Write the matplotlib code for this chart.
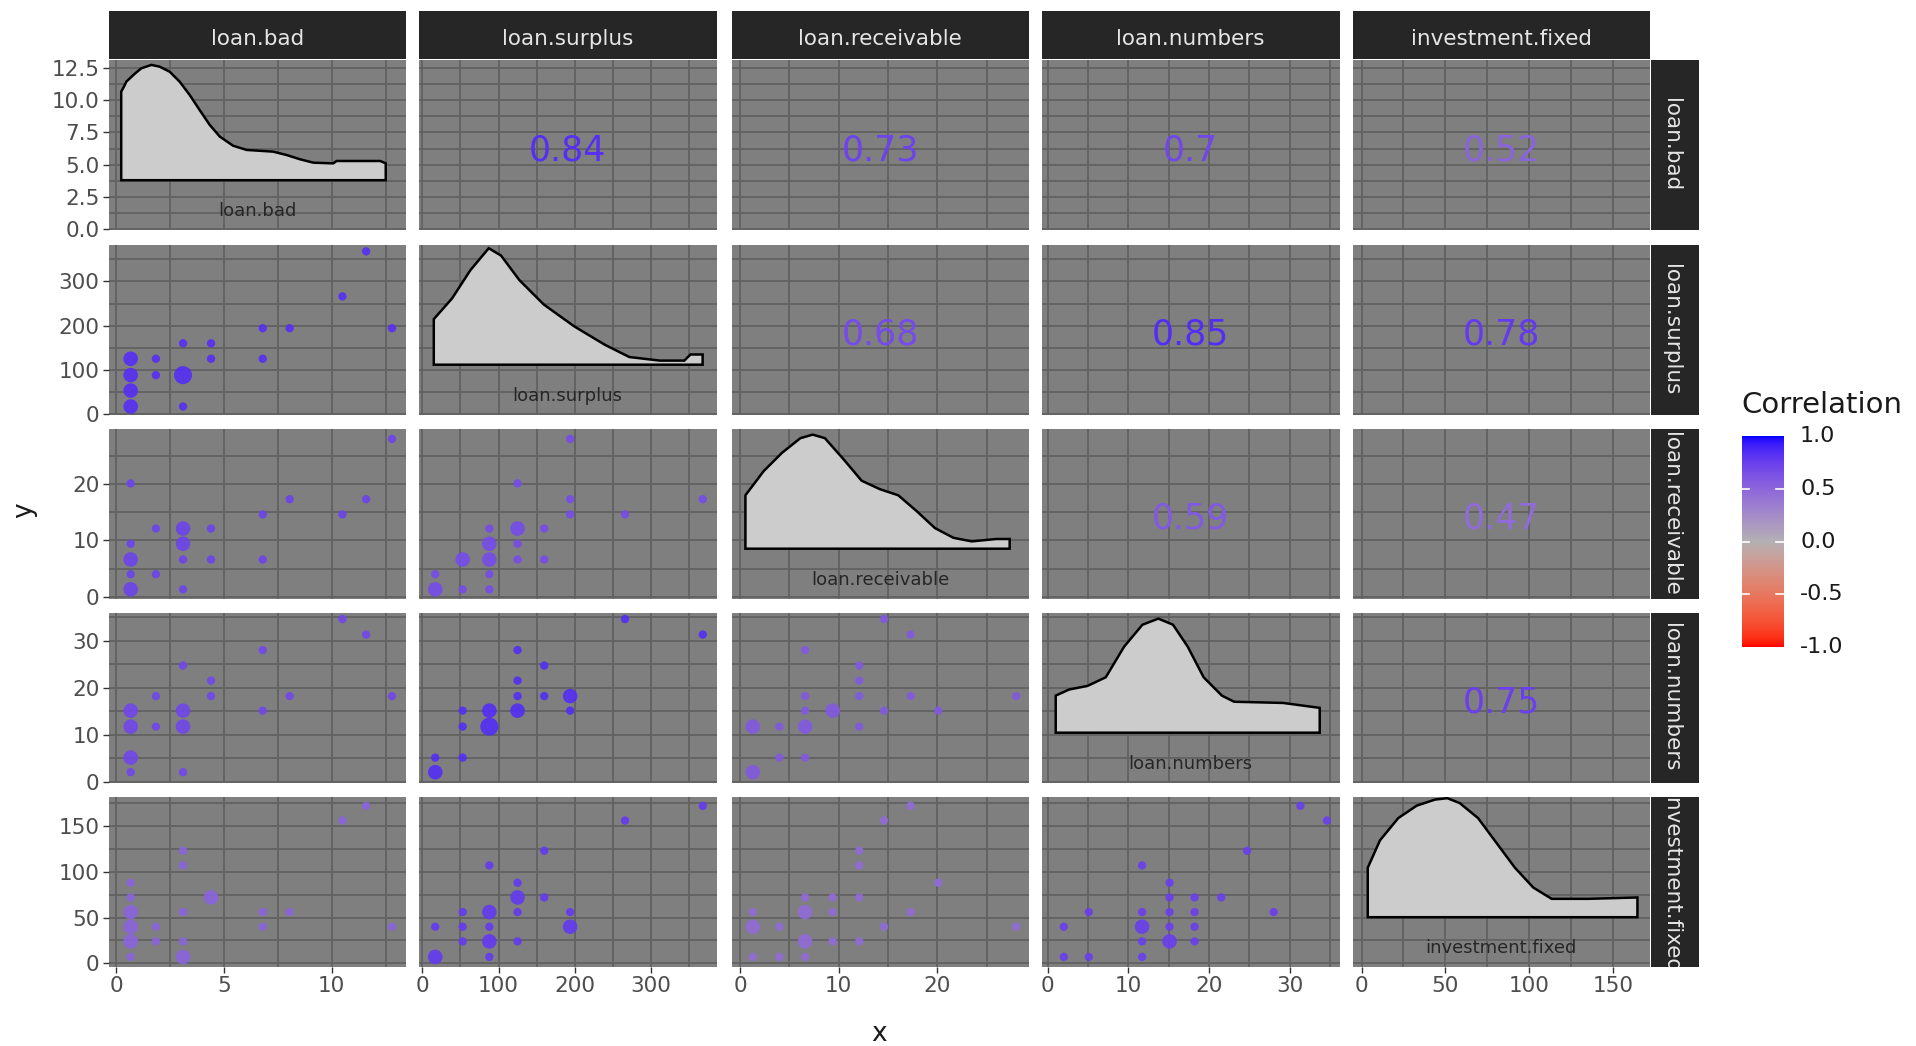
import numpy as np
import matplotlib
matplotlib.use("Agg")
import matplotlib.pyplot as plt
import matplotlib.colors as mcolors
from matplotlib.ticker import MultipleLocator, FormatStrFormatter
from matplotlib.transforms import blended_transform_factory

plt.rcParams['font.family'] = ['DejaVu Sans']

# variables of the pairs plot
variables = ['loan.bad', 'loan.surplus', 'loan.receivable', 'loan.numbers', 'investment.fixed']

# distinct values each variable takes
bad_levels = [0.67, 1.84, 3.1, 4.4, 6.8, 8.05, 10.5, 11.6, 12.8]
surplus_levels = [17, 53, 88, 125, 160, 194, 266, 368]
receivable_levels = [1.3, 4.0, 6.6, 9.4, 12.1, 14.6, 17.3, 20.1, 28.0]
numbers_levels = [2.0, 5.1, 11.7, 15.1, 18.2, 21.5, 24.7, 28.0, 31.3, 34.6]
fixed_levels = [7, 24, 40, 56, 72, 88, 107, 123, 156, 172]
levels = [bad_levels, surplus_levels, receivable_levels, numbers_levels, fixed_levels]

# lower panels: (x level, y level, count), levels 1-based
pts_surplus_bad = [(8, 8, 1), (7, 7, 1), (5, 6, 1), (6, 6, 1), (9, 6, 1), (3, 5, 1), (4, 5, 1),
                   (1, 4, 2), (2, 4, 1), (4, 4, 1), (5, 4, 1), (1, 3, 2), (2, 3, 1), (3, 3, 3),
                   (1, 2, 2), (1, 1, 2), (3, 1, 1)]
pts_receivable_bad = [(9, 9, 1), (1, 8, 1), (6, 7, 1), (8, 7, 1), (5, 6, 1), (7, 6, 1), (2, 5, 1),
                      (3, 5, 2), (4, 5, 1), (1, 4, 1), (3, 4, 2), (1, 3, 2), (3, 3, 1), (4, 3, 1),
                      (5, 3, 1), (1, 2, 1), (2, 2, 1), (1, 1, 2), (3, 1, 1)]
pts_numbers_bad = [(7, 10, 1), (8, 9, 1), (5, 8, 1), (3, 7, 1), (4, 6, 1), (2, 5, 1), (4, 5, 1),
                   (6, 5, 1), (9, 5, 1), (1, 4, 2), (3, 4, 2), (5, 4, 1), (1, 3, 2), (2, 3, 1),
                   (3, 3, 2), (1, 2, 2), (1, 1, 1), (3, 1, 1)]
pts_fixed_bad = [(8, 10, 1), (7, 9, 1), (3, 8, 1), (3, 7, 1), (1, 6, 1), (1, 5, 1), (4, 5, 2),
                 (1, 4, 2), (3, 4, 1), (5, 4, 1), (6, 4, 1), (1, 3, 2), (2, 3, 1), (5, 3, 1),
                 (9, 3, 1), (1, 2, 2), (2, 2, 1), (3, 2, 1), (1, 1, 1), (3, 1, 2)]
pts_receivable_surplus = [(6, 9, 1), (4, 8, 1), (6, 7, 1), (8, 7, 1), (6, 6, 1), (7, 6, 1), (3, 5, 1),
                          (4, 5, 2), (5, 5, 1), (3, 4, 2), (4, 4, 1), (2, 3, 2), (3, 3, 2), (4, 3, 1),
                          (5, 3, 1), (1, 2, 1), (3, 2, 1), (1, 1, 2), (2, 1, 1), (3, 1, 1)]
pts_numbers_surplus = [(7, 10, 1), (8, 9, 1), (4, 8, 1), (5, 7, 1), (4, 6, 1), (4, 5, 1), (5, 5, 1),
                       (6, 5, 2), (2, 4, 1), (3, 4, 2), (4, 4, 2), (6, 4, 1), (2, 3, 1), (3, 3, 3),
                       (1, 2, 1), (2, 2, 1), (1, 1, 2)]
pts_fixed_surplus = [(8, 10, 1), (7, 9, 1), (5, 8, 1), (3, 7, 1), (4, 6, 1), (4, 5, 2), (5, 5, 1),
                     (2, 4, 1), (3, 4, 2), (4, 4, 1), (6, 4, 1), (1, 3, 1), (2, 3, 1), (3, 3, 1),
                     (6, 3, 2), (2, 2, 1), (3, 2, 2), (4, 2, 1), (1, 1, 2), (3, 1, 1)]
pts_numbers_receivable = [(6, 10, 1), (7, 9, 1), (3, 8, 1), (5, 7, 1), (5, 6, 1), (3, 5, 1), (5, 5, 1),
                          (7, 5, 1), (9, 5, 1), (3, 4, 1), (4, 4, 2), (6, 4, 1), (8, 4, 1), (1, 3, 2),
                          (2, 3, 1), (3, 3, 2), (5, 3, 1), (2, 2, 1), (3, 2, 1), (1, 1, 2)]
pts_fixed_receivable = [(7, 10, 1), (6, 9, 1), (5, 8, 1), (5, 7, 1), (8, 6, 1), (3, 5, 1), (4, 5, 1),
                        (5, 5, 1), (1, 4, 1), (3, 4, 2), (4, 4, 1), (7, 4, 1), (1, 3, 2), (2, 3, 1),
                        (6, 3, 1), (9, 3, 1), (3, 2, 2), (4, 2, 1), (5, 2, 1), (1, 1, 1), (2, 1, 1),
                        (3, 1, 1)]
pts_fixed_numbers = [(9, 10, 1), (10, 9, 1), (7, 8, 1), (3, 7, 1), (4, 6, 1), (4, 5, 1), (5, 5, 1),
                     (6, 5, 1), (2, 4, 1), (3, 4, 1), (4, 4, 1), (5, 4, 1), (8, 4, 1), (1, 3, 1),
                     (3, 3, 2), (4, 3, 1), (5, 3, 1), (3, 2, 1), (4, 2, 2), (5, 2, 1), (1, 1, 1),
                     (2, 1, 1), (3, 1, 1)]
lower_points = {(1, 0): pts_surplus_bad, (2, 0): pts_receivable_bad, (3, 0): pts_numbers_bad,
                (4, 0): pts_fixed_bad, (2, 1): pts_receivable_surplus, (3, 1): pts_numbers_surplus,
                (4, 1): pts_fixed_surplus, (3, 2): pts_numbers_receivable,
                (4, 2): pts_fixed_receivable, (4, 3): pts_fixed_numbers}

# correlations shown in the upper panels
corr_labels = ['0.84', '0.73', '0.7', '0.52', '0.68', '0.85', '0.78', '0.59', '0.47', '0.75']
corr_pairs = [(0, 1), (0, 2), (0, 3), (0, 4), (1, 2), (1, 3), (1, 4), (2, 3), (2, 4), (3, 4)]
corr = {}
for (a, b), lab in zip(corr_pairs, corr_labels):
    corr[(a, b)] = float(lab)
    corr[(b, a)] = float(lab)

# density outlines on the diagonal: x in data units, y as share of panel height
dens_bad_x = [0.23, 0.34, 0.47, 0.85, 1.16, 1.63, 2.01, 2.48, 2.94, 3.41, 3.87, 4.34, 4.81, 5.42,
              6.05, 7.28, 7.91, 8.53, 9.15, 10.07, 10.23, 12.25, 12.51]
dens_bad_y = [0.814, 0.839, 0.873, 0.918, 0.951, 0.971, 0.961, 0.931, 0.873, 0.794, 0.706, 0.618,
              0.549, 0.496, 0.471, 0.461, 0.441, 0.416, 0.396, 0.392, 0.406, 0.406, 0.392]
dens_surplus_x = [15.1, 39.1, 63.1, 87.2, 103.3, 127.3, 159.4, 199.5, 239.6, 271.7, 311.7, 343.8,
                  351.8, 367.8]
dens_surplus_y = [0.561, 0.683, 0.849, 0.978, 0.935, 0.791, 0.647, 0.518, 0.410, 0.338, 0.317,
                  0.317, 0.353, 0.353]
dens_receivable_x = [0.55, 2.41, 4.26, 6.12, 7.37, 8.61, 10.47, 12.33, 14.19, 16.05, 17.91, 19.77,
                     21.64, 23.49, 25.97, 27.34]
dens_receivable_y = [0.607, 0.75, 0.857, 0.943, 0.964, 0.943, 0.821, 0.693, 0.643, 0.607, 0.514,
                     0.414, 0.357, 0.336, 0.35, 0.35]
dens_numbers_x = [1.0, 2.66, 4.93, 7.2, 9.47, 11.74, 13.71, 15.53, 17.35, 19.32, 21.58, 23.1,
                  29.16, 33.7]
dens_numbers_y = [0.511, 0.547, 0.568, 0.619, 0.799, 0.928, 0.964, 0.928, 0.799, 0.619, 0.511,
                  0.475, 0.468, 0.439]
dens_fixed_x = [3.7, 11, 21.9, 32.9, 43.9, 51.2, 58.6, 69.5, 80.5, 91.5, 102.5, 113.4, 135.4, 164.6]
dens_fixed_y = [0.584, 0.745, 0.876, 0.949, 0.985, 0.993, 0.964, 0.876, 0.73, 0.584, 0.467, 0.401,
                0.401, 0.409]
dens_x = [dens_bad_x, dens_surplus_x, dens_receivable_x, dens_numbers_x, dens_fixed_x]
dens_y = [dens_bad_y, dens_surplus_y, dens_receivable_y, dens_numbers_y, dens_fixed_y]
dens_base = 0.293

# axis ranges per column / row
x_lims = [(-0.36, 13.45), (-4.3, 386), (-0.86, 29.3), (-0.7, 36.15), (-5.4, 172.1)]
y_lims = [(-0.1, 13.15), (-1.1, 383.5), (-0.32, 29.85), (-0.2, 36.0), (-4.0, 181.7)]
x_steps = [5, 100, 10, 10, 50]
y_steps = [2.5, 100, 10, 10, 50]


# colour scale: red -> grey -> blue, interpolated in Lab like ggplot
M = np.array([[0.4124, 0.3576, 0.1805], [0.2126, 0.7152, 0.0722], [0.0193, 0.1192, 0.9505]])
WHITE = np.array([0.95047, 1.0, 1.08883])


def to_lab(c):
    rgb = np.array(mcolors.to_rgb(c))
    lin = np.where(rgb <= 0.04045, rgb / 12.92, ((rgb + 0.055) / 1.055) ** 2.4)
    xyz = M @ lin / WHITE
    f = np.where(xyz > 0.008856, np.cbrt(xyz), 7.787 * xyz + 16 / 116)
    return np.array([116 * f[1] - 16, 500 * (f[0] - f[1]), 200 * (f[1] - f[2])])


def from_lab(lab):
    fy = (lab[0] + 16) / 116
    f = np.array([fy + lab[1] / 500, fy, fy - lab[2] / 200])
    xyz = np.where(f ** 3 > 0.008856, f ** 3, (f - 16 / 116) / 7.787) * WHITE
    lin = np.clip(np.linalg.inv(M) @ xyz, 0, 1)
    rgb = np.where(lin <= 0.0031308, 12.92 * lin, 1.055 * lin ** (1 / 2.4) - 0.055)
    return np.clip(rgb, 0, 1)


LOW, MID, HIGH = to_lab('#FF0000'), to_lab('#B4B0B4'), to_lab('#0000FF')


def corr_colour(r):
    if r >= 0:
        return from_lab(MID + (HIGH - MID) * r)
    return from_lab(MID + (LOW - MID) * (-r))


W, H = 1916, 1046
fig = plt.figure(figsize=(W / 100, H / 100), dpi=100)


def box(x, y, w, h):
    return [x / W, 1 - (y + h) / H, w / W, h / H]


col_left = [108.5, 419, 731.5, 1042, 1352.5]
col_w = 297.5
row_top = [60, 244.5, 428.5, 612.5, 797]
row_h = 170

grid_col = '#626262'
tick_col = '#4D4D4D'

for i in range(5):
    for j in range(5):
        ax = fig.add_axes(box(col_left[j], row_top[i], col_w, row_h))
        ax.set_facecolor('#7F7F7F')
        ax.set_xlim(*x_lims[j])
        ax.set_ylim(*y_lims[i])
        ax.xaxis.set_major_locator(MultipleLocator(x_steps[j]))
        ax.xaxis.set_minor_locator(MultipleLocator(x_steps[j] / 2))
        ax.yaxis.set_major_locator(MultipleLocator(y_steps[i]))
        ax.yaxis.set_minor_locator(MultipleLocator(y_steps[i] / 2))
        ax.grid(True, which='both', color=grid_col, lw=1.3)
        ax.set_axisbelow(True)
        for s in ax.spines.values():
            s.set_visible(False)
        ax.tick_params(which='minor', length=0)
        ax.tick_params(which='major', length=4.5, width=1.0, color='#333333',
                       labelsize=15.5, labelcolor=tick_col, pad=2)
        if j != 0:
            ax.tick_params(axis='y', which='major', length=0, labelleft=False)
        if i != 4:
            ax.tick_params(axis='x', which='major', length=0, labelbottom=False)
        if i == 0:
            ax.yaxis.set_major_formatter(FormatStrFormatter('%.1f'))
        else:
            ax.yaxis.set_major_formatter(FormatStrFormatter('%d'))
        ax.xaxis.set_major_formatter(FormatStrFormatter('%d'))

        if i == j:
            trans = blended_transform_factory(ax.transData, ax.transAxes)
            xs = [dens_x[i][0]] + dens_x[i] + [dens_x[i][-1]]
            ys = [dens_base] + dens_y[i] + [dens_base]
            ax.fill(xs, ys, facecolor='#CCCCCC', edgecolor='black', lw=1.8,
                    transform=trans, zorder=3)
            ax.text(0.5, 0.11, variables[i], transform=ax.transAxes, ha='center',
                    va='center', fontsize=13, color='#262626', zorder=4)
        elif i < j:
            ax.text(0.5, 0.47, corr_labels[corr_pairs.index((i, j))], transform=ax.transAxes,
                    ha='center', va='center', fontsize=25, color=corr_colour(corr[(i, j)]))
        else:
            pts = lower_points[(i, j)]
            px = [levels[j][p[0] - 1] for p in pts]
            py = [levels[i][p[1] - 1] for p in pts]
            sizes = [{1: 36, 2: 110, 3: 170}[p[2]] for p in pts]
            ax.scatter(px, py, s=sizes, color=corr_colour(corr[(i, j)]), alpha=0.9,
                       linewidths=0, zorder=3)

# facet strips
for j in range(5):
    sax = fig.add_axes(box(col_left[j], 11, col_w, 48))
    sax.set_facecolor('#262626')
    sax.set_xticks([])
    sax.set_yticks([])
    for s in sax.spines.values():
        s.set_visible(False)
    sax.text(0.5, 0.42, variables[j], ha='center', va='center', fontsize=15.5,
             color='#E5E5E5', transform=sax.transAxes)
for i in range(5):
    sax = fig.add_axes(box(1651, row_top[i], 48, row_h))
    sax.set_facecolor('#262626')
    sax.set_xticks([])
    sax.set_yticks([])
    for s in sax.spines.values():
        s.set_visible(False)
    sax.text(0.42, 0.5, variables[i], ha='center', va='center', fontsize=15.5, rotation=-90,
             color='#E5E5E5', transform=sax.transAxes, clip_on=True)

# axis titles
fig.text(879 / W, 1 - 1034 / H, 'x', ha='center', va='center', fontsize=19, color='#1A1A1A')
fig.text(24 / W, 1 - 510 / H, 'y', ha='center', va='center', fontsize=19, color='#1A1A1A',
         rotation=90)

# colour bar legend
lax = fig.add_axes(box(1742, 436, 41.5, 211))
vals = np.linspace(-1, 1, 256)
img = np.array([corr_colour(v) for v in vals])[:, None, :]
lax.imshow(img, origin='lower', extent=[0, 1, -1, 1], aspect='auto')
lax.set_xlim(0, 1)
lax.set_ylim(-1, 1)
for s in lax.spines.values():
    s.set_visible(False)
lax.set_xticks([])
lax.set_yticks([])
for v in [0.5, 0.0, -0.5]:
    lax.plot([0, 0.17], [v, v], color='white', lw=1.2)
    lax.plot([0.83, 1], [v, v], color='white', lw=1.2)
for v in [1.0, 0.5, 0.0, -0.5, -1.0]:
    yy = 436 + (1 - v) / 2 * 211
    fig.text(1800 / W, 1 - yy / H, '%.1f' % v, ha='left', va='center', fontsize=16,
             color='#1A1A1A')
fig.text(1741 / W, 1 - 405 / H, 'Correlation', ha='left', va='center', fontsize=21,
         color='#1A1A1A')

fig.savefig('out.png', dpi=100)
